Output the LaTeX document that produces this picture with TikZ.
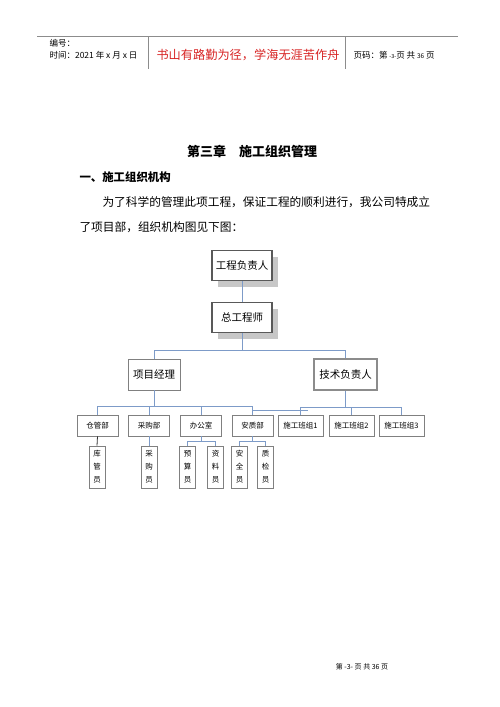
\documentclass[tikz,border=0pt]{standalone}
\usepackage{fontspec}
\setmainfont{Noto Sans CJK SC}
\usetikzlibrary{shadows}
\definecolor{linkblue}{RGB}{125,155,200}
\definecolor{mottored}{RGB}{215,35,35}
\tikzset{
  boss/.style={draw=black!65, line width=1.6pt, fill=white, inner sep=0pt,
    minimum width=60pt, minimum height=30pt, font=\fontsize{10.5}{12}\selectfont,
    general shadow={fill=black!22, shadow xshift=6pt, shadow yshift=-6pt}},
  lead/.style={draw=black!50, line width=0.8pt, fill=white, inner sep=0pt,
    minimum height=31pt, font=\fontsize{10.5}{12}\selectfont},
  dept/.style={draw=black!50, line width=0.8pt, inner sep=0pt,
    minimum width=41pt, minimum height=21pt, font=\fontsize{7.5}{9}\selectfont},
  staff/.style={draw=black!50, line width=0.8pt, inner sep=0pt, align=center,
    minimum width=16pt, minimum height=42pt, font=\fontsize{7.5}{13}\selectfont},
  link/.style={draw=linkblue, line width=0.8pt},
  rule/.style={draw=black!45, line width=0.6pt},
}
\begin{document}
\begin{tikzpicture}[x=1pt, y=-1pt]
    \useasboundingbox (0,0) rectangle (500,707);

    \draw[rule] (37,36) -- (458,36);
    \draw[rule] (148,36) -- (148,69);
    \draw[rule] (345,36) -- (345,69);
    \node[anchor=west, font=\fontsize{8.5}{10}\selectfont] (num) at (46,43) {编号：};
    \node[anchor=west, font=\fontsize{8.5}{10}\selectfont] (date) at (46,55) {时间：2021 年 x 月 x 日};
    \node[text=mottored, font=\fontsize{12.2}{14}\selectfont] (motto) at (248,55) {书山有路勤为径，学海无涯苦作舟};
    \node[anchor=west, font=\fontsize{8.5}{10}\selectfont] (page) at (350,55)
        {页码：第 {\fontsize{5.5}{6}\selectfont -3-}页 共 {\fontsize{6.5}{7}\selectfont 36} 页};

    \node[font=\fontsize{13}{15}\selectfont\bfseries] (chap) at (252,151) {第三章　施工组织管理};
    \node[anchor=west, font=\fontsize{11.4}{13}\selectfont\bfseries] (sec) at (76,177) {一、施工组织机构};
    \node[anchor=west, font=\fontsize{11.7}{13}\selectfont] (par1) at (99,202)
        {为了科学的管理此项工程，保证工程的顺利进行，我公司特成立};
    \node[anchor=west, font=\fontsize{11.7}{13}\selectfont] (par2) at (76,227)
        {了项目部，组织机构图见下图：};

    \node[boss] (fz) at (242,265.5) {工程负责人};
    \node[boss] (zg) at (242,317.5) {总工程师};
    \node[lead, minimum width=52pt] (xm) at (154,374.5) {项目经理};
    \node[lead, minimum width=63pt, line width=1.8pt, draw=black!45] (js) at (345.5,374.5) {技术负责人};

    \node[dept] (cg) at (97.5,425.5) {仓管部};
    \node[dept] (cq) at (149,425.5) {采购部};
    \node[dept] (bg) at (201,425.5) {办公室};
    \node[dept] (az) at (252.5,425.5) {安质部};
    \node[dept, minimum width=45pt] (bz1) at (300.5,425.5) {施工班组1};
    \node[dept, minimum width=45pt] (bz2) at (351.5,425.5) {施工班组2};
    \node[dept, minimum width=45pt] (bz3) at (401.5,425.5) {施工班组3};

    \node[staff] (kg) at (97,467) {库\\管\\员};
    \node[staff] (cy) at (149,467) {采\\购\\员};
    \node[staff] (ys) at (187.5,467) {预\\算\\员};
    \node[staff] (zl) at (215.5,467) {资\\料\\员};
    \node[staff] (aq) at (239.5,467) {安\\全\\员};
    \node[staff] (zj) at (265.5,467) {质\\检\\员};

    \draw[link] (fz) -- (zg);
    \draw[link] (zg.south) -- ++(0,17) coordinate (top);
    \draw[link] (top) -| (xm.north);
    \draw[link] (top) -| (js.north);

    \draw[link] (xm.south) -- ++(0,16) coordinate (left);
    \foreach \d in {cg,cq,bg,az}
        \draw[link] (left) -| (\d.north);
    \draw[link] (js.south) -- ++(0,16) coordinate (right);
    \foreach \d in {bz1,bz2,bz3}
        \draw[link] (right) -| (\d.north);
    \draw[link] ([yshift=4pt]az.north) -- ++(55,0);

    \draw[draw=black!80, line width=0.8pt] (cg.south) -- (kg.north);
    \draw[link] (cq.south) -- (cy.north);
    \draw[link] (bg.south) -- ++(0,5) coordinate (office);
    \draw[link] (office) -| (ys.north);
    \draw[link] (office) -| (zl.north);
    \draw[link] (az.south) -- ++(0,5) coordinate (safety);
    \draw[link] (safety) -| (aq.north);
    \draw[link] (safety) -| (zj.north);

    \node[font=\fontsize{7}{8}\selectfont] (foot) at (362,667) {第 -3- 页 共 36 页};
\end{tikzpicture}
\end{document}
